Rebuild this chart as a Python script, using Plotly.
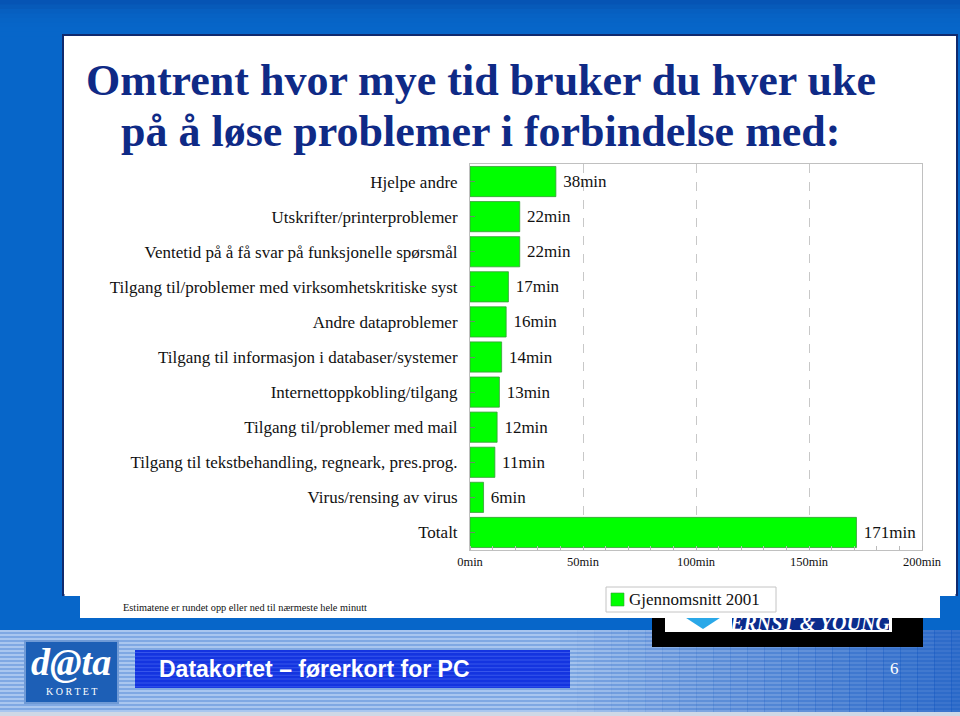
import plotly.graph_objects as go

W, H = 960, 716

categories = [
    "Hjelpe andre",
    "Utskrifter/printerproblemer",
    "Ventetid på å få svar på funksjonelle spørsmål",
    "Tilgang til/problemer med virksomhetskritiske syst",
    "Andre dataproblemer",
    "Tilgang til informasjon i databaser/systemer",
    "Internettoppkobling/tilgang",
    "Tilgang til/problemer med mail",
    "Tilgang til tekstbehandling, regneark, pres.prog.",
    "Virus/rensing av virus",
    "Totalt",
]
minutes = [38, 22, 22, 17, 16, 14, 13, 12, 11, 6, 171]
series_name = "Gjennomsnitt 2001"
x_tickvals = [0, 50, 100, 150, 200]
x_ticktext = ["0min", "50min", "100min", "150min", "200min"]

title_lines = [
    "Omtrent hvor mye tid bruker du hver uke",
    "på å løse problemer i forbindelse med:",
]
note = "Estimatene er rundet opp eller ned til nærmeste hele minutt"
footer = "Datakortet – førerkort for PC"
page_no = "6"

SERIF = "Liberation Serif, Times New Roman, serif"
SANS = "Liberation Sans, Arial, sans-serif"
BAR_GREEN = "#00ff00"


def px(x):
    return x / W


def py(y):
    return 1 - y / H


shapes = []


def rect(x0, y0, x1, y1, fill, line=None, lw=0, layer="below"):
    shapes.append(dict(type="rect", xref="paper", yref="paper",
                       x0=px(x0), x1=px(x1), y0=py(y1), y1=py(y0),
                       fillcolor=fill, line=dict(color=line or fill, width=lw),
                       layer=layer))


# top blue gradient-ish
tops = ["#0654b4", "#075ab9", "#075fc0", "#0762c4", "#0764c6", "#0765c8", "#0766c9", "#0766c9"]
for i, c in enumerate(tops):
    rect(0, i * 4.5, W, (i + 1) * 4.5 + 0.5, c)

# bottom striped band
y = 630
k = 0
while y < 712:
    rect(0, y, W, y + 2, "#a9c6ef" if k % 2 == 0 else "#7fa8e3")
    y += 2
    k += 1
for i in range(24):
    x0 = 560 + i * 17
    rect(x0, 630, x0 + 17.5, 712, "rgba(10,80,190,%.3f)" % (0.03 + i * 0.03))
rect(0, 712, W, H, "#cfd8e6")

# E&Y logo (under the white panel)
rect(652, 590, 923, 647, "#000000")
rect(665, 592, 892, 632, "#ffffff")
rect(668, 594, 889, 630, "#0b2c8c")
rect(668, 594, 732, 630, "#ffffff")
shapes.append(dict(type="path", xref="paper", yref="paper",
                   path="M %f %f L %f %f L %f %f Z" % (px(680), py(614), px(726), py(614), px(703), py(629)),
                   fillcolor="#2aa8e8", line=dict(width=0), layer="below"))

# main white panel
rect(63, 35, 957, 595, "#ffffff", line="#102a6e", lw=2)
# lower note strip (above so E&Y logo text is clipped)
rect(80, 590, 940, 618, "#ffffff", layer="above")
rect(64.5, 590, 955.5, 596, "#ffffff", layer="above")

# legend (manual)
rect(606, 587, 776, 612, "#ffffff", line="#c4c4c4", lw=1, layer="above")
rect(611, 593, 624, 606, BAR_GREEN, line="#3a9a3a", lw=0.6, layer="above")

# footer blue box
rect(135, 650, 570, 688, "#1434e0")
for i in range(10):
    yy = 652 + i * 3.8
    rect(135, yy, 570, yy + 1, "rgba(120,150,255,0.35)")

# logo
shapes.append(dict(type="rect", xref="paper", yref="paper",
                   x0=px(25), x1=px(118), y0=py(703), y1=py(641),
                   fillcolor="#1d5fb6", line=dict(color="#6f9ad6", width=2), layer="below"))

fig = go.Figure()

fig.add_trace(go.Bar(
    y=categories, x=minutes, orientation="h", name=series_name,
    marker=dict(color=BAR_GREEN, line=dict(color="#3a9a3a", width=0.8)),
    text=[f"\u00a0{m}min" for m in minutes], textposition="outside",
    textfont=dict(family=SERIF, size=17, color="#111111"),
    cliponaxis=False, showlegend=False,
))

# E&Y text on a full-page helper subplot, so the white strip above hides its top
fig.add_trace(go.Scatter(
    x=[810], y=[625], mode="text", text=["<b><i>ERNST & YOUNG</i></b>"],
    textfont=dict(family=SERIF, size=20, color="#ffffff"),
    xaxis="x2", yaxis="y2", showlegend=False, hoverinfo="skip", cliponaxis=False,
))

annotations = [
    dict(text=f"<b>{title_lines[0]}</b>", x=px(481), y=py(80), xref="paper", yref="paper",
         showarrow=False, xanchor="center", yanchor="middle",
         font=dict(family=SERIF, size=44, color="#0f2a86")),
    dict(text=f"<b>{title_lines[1]}</b>", x=px(480), y=py(132), xref="paper", yref="paper",
         showarrow=False, xanchor="center", yanchor="middle",
         font=dict(family=SERIF, size=44, color="#0f2a86")),
    dict(text=note, x=px(121), y=py(607), xref="paper", yref="paper",
         showarrow=False, xanchor="left", yanchor="middle",
         font=dict(family=SERIF, size=10.3, color="#111111")),
    dict(text=series_name, x=px(627), y=py(599.5), xref="paper", yref="paper",
         showarrow=False, xanchor="left", yanchor="middle",
         font=dict(family=SERIF, size=17, color="#111111")),
    dict(text=f"<b>{footer}</b>", x=px(157), y=py(669), xref="paper", yref="paper",
         showarrow=False, xanchor="left", yanchor="middle",
         font=dict(family=SANS, size=23, color="#ffffff")),
    dict(text=page_no, x=px(894), y=py(668), xref="paper", yref="paper",
         showarrow=False, xanchor="center", yanchor="middle",
         font=dict(family=SERIF, size=17, color="#ffffff")),
    dict(text="<b><i>d@ta</i></b>", x=px(71), y=py(662), xref="paper", yref="paper",
         showarrow=False, xanchor="center", yanchor="middle",
         font=dict(family=SERIF, size=38, color="#ffffff")),
    dict(text="K O R T E T", x=px(71), y=py(691), xref="paper", yref="paper",
         showarrow=False, xanchor="center", yanchor="middle",
         font=dict(family=SERIF, size=10, color="#ffffff")),
]

fig.update_layout(
    width=W, height=H,
    margin=dict(l=0, r=0, t=0, b=0, autoexpand=False),
    paper_bgcolor="#0766c9",
    plot_bgcolor="rgba(0,0,0,0)",
    shapes=shapes,
    annotations=annotations,
    bargap=0.14,
    showlegend=False,
    xaxis=dict(domain=[px(470), px(922)], range=[0, 200],
               tickvals=x_tickvals, ticktext=x_ticktext,
               tickfont=dict(family=SERIF, size=12.5, color="#111111"),
               showgrid=True, gridcolor="#c8c8c8", griddash="dash", gridwidth=1,
               showline=True, linecolor="#c0c0c0", linewidth=1, mirror=True,
               ticks="", zeroline=False,
               minor=dict(dtick=10, ticks="inside", ticklen=4, tickcolor="#bbbbbb", showgrid=False),
               fixedrange=True),
    yaxis=dict(domain=[py(550), py(164)], autorange="reversed",
               tickfont=dict(family=SERIF, size=17, color="#111111"),
               showline=True, linecolor="#c0c0c0", linewidth=1, mirror=True,
               ticks="inside", ticklen=5, tickcolor="#6a8a6a",
               ticklabelstandoff=8, showgrid=False, fixedrange=True),
    xaxis2=dict(domain=[0, 1], range=[0, W], visible=False, anchor="y2", fixedrange=True),
    yaxis2=dict(domain=[0, 1], range=[H, 0], visible=False, anchor="x2", fixedrange=True),
)

fig.write_html("out.html")
